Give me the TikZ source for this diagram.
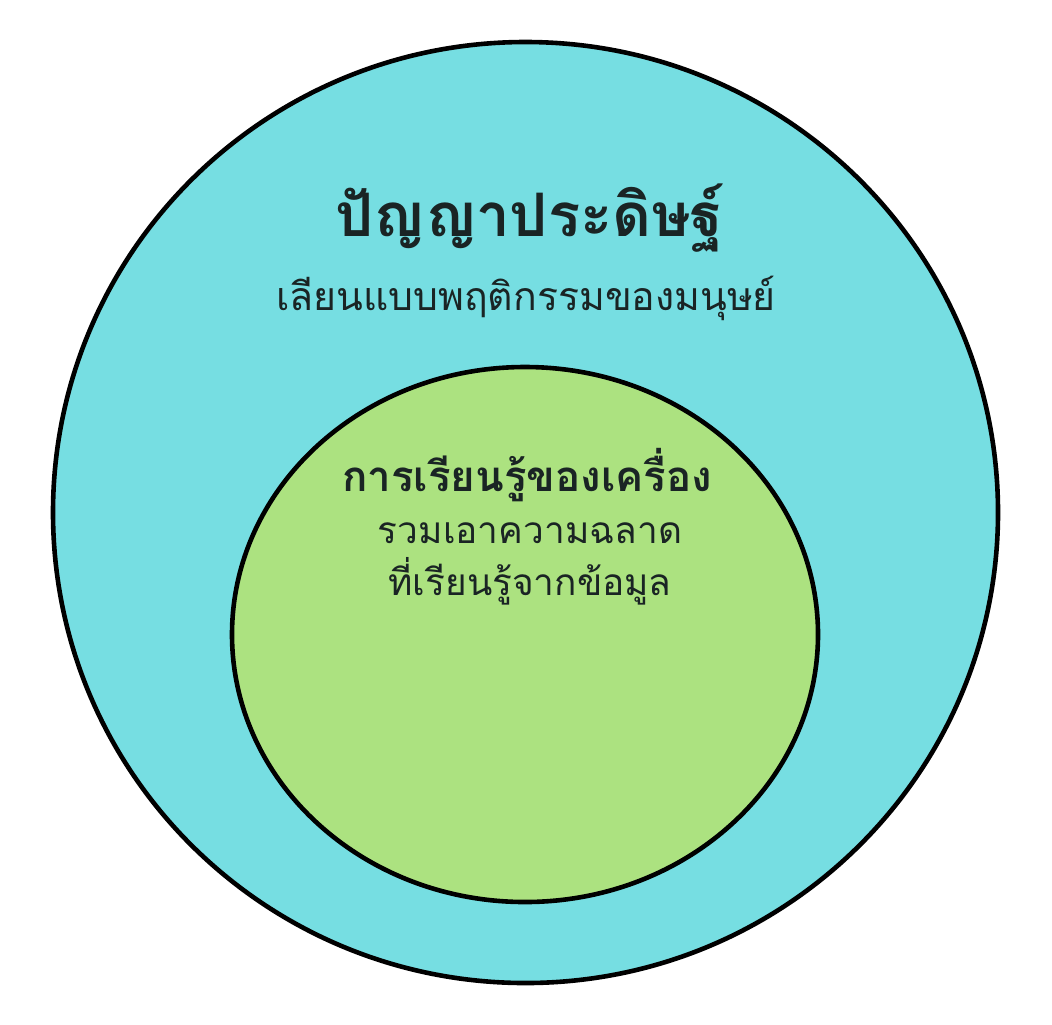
\documentclass[tikz,border=0pt]{standalone}
\usepackage{fontspec}
\newfontfamily\thaifont[Script=Thai]{Loma}
\definecolor{aicyan}{RGB}{118,222,226}
\definecolor{mlgreen}{RGB}{172,226,128}
\definecolor{inkdark}{RGB}{26,36,36}
\tikzset{
  ring/.style={draw=black,line width=2.3pt},
  label/.style={inner sep=0pt,text=inkdark,align=center}
}
\begin{document}
\begin{tikzpicture}[x=0.5pt,y=-0.5pt]
    % page is 1052 x 1024 px, one unit is one px
    \useasboundingbox (0,0) rectangle (1052,1024);
    \coordinate (outerc) at (525.5,512.5);
    \coordinate (innerc) at (525,634.5);
    \filldraw[ring,fill=aicyan]  (outerc) ellipse [x radius=472.5,y radius=470.5];
    \filldraw[ring,fill=mlgreen] (innerc) ellipse [x radius=293,y radius=267.5];
    % texts of the two rings
    \node[label,font=\thaifont\bfseries\fontsize{30}{36}\selectfont] (aititle) at (530,218) {ปัญญาประดิษฐ์};
    \node[label,font=\thaifont\fontsize{19.6}{24}\selectfont] (aitext) at (526,298) {เลียนแบบพฤติกรรมของมนุษย์};
    \node[label,font=\thaifont\bfseries\fontsize{21}{25}\selectfont] (mltitle) at (527,475) {การเรียนรู้ของเครื่อง};
    \node[label,font=\thaifont\fontsize{18.5}{26}\selectfont] (mltext) at (530,564) {รวมเอาความฉลาด\\ที่เรียนรู้จากข้อมูล};
\end{tikzpicture}
\end{document}
